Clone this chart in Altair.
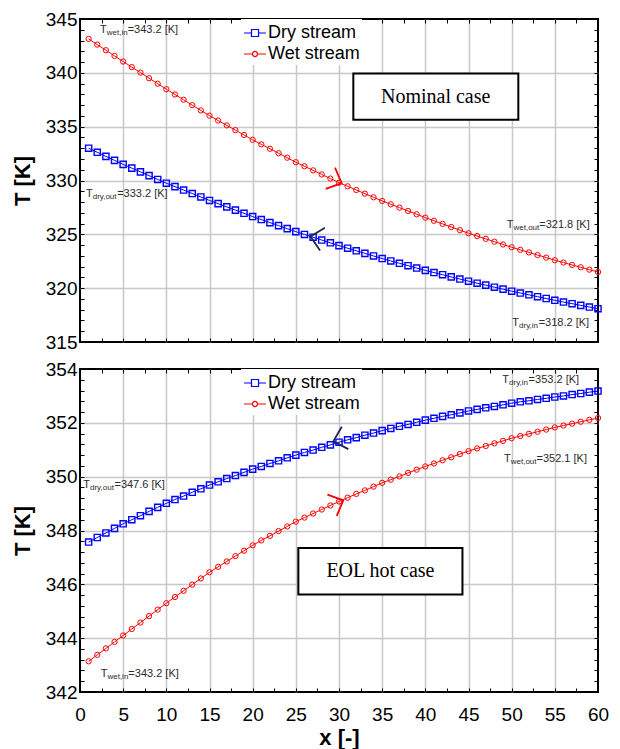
import altair as alt
import pandas as pd

FONT = "Liberation Sans"
SERIF = "Liberation Serif"

# ---------------- data ----------------
x_pos = list(range(1, 61))

nominal_dry = [333.00, 332.62, 332.24, 331.87, 331.50, 331.15, 330.80, 330.45, 330.10, 329.75,
               329.43, 329.11, 328.79, 328.47, 328.15, 327.85, 327.55, 327.25, 326.95, 326.65,
               326.37, 326.09, 325.81, 325.53, 325.25, 324.99, 324.73, 324.47, 324.21, 323.95,
               323.71, 323.47, 323.23, 322.99, 322.75, 322.53, 322.31, 322.09, 321.87, 321.65,
               321.45, 321.25, 321.05, 320.85, 320.65, 320.46, 320.28, 320.09, 319.91, 319.72,
               319.55, 319.38, 319.21, 319.04, 318.87, 318.71, 318.56, 318.40, 318.25, 318.09]

nominal_wet = [343.15, 342.62, 342.10, 341.57, 341.05, 340.53, 340.02, 339.50, 338.99, 338.48,
               337.99, 337.50, 337.00, 336.51, 336.02, 335.57, 335.12, 334.68, 334.23, 333.78,
               333.36, 332.95, 332.53, 332.12, 331.70, 331.32, 330.94, 330.56, 330.18, 329.80,
               329.46, 329.12, 328.78, 328.44, 328.10, 327.79, 327.48, 327.17, 326.86, 326.55,
               326.26, 325.97, 325.68, 325.39, 325.10, 324.84, 324.58, 324.32, 324.06, 323.80,
               323.56, 323.32, 323.08, 322.84, 322.60, 322.38, 322.16, 321.94, 321.72, 321.50]

eol_dry = [347.57, 347.74, 347.91, 348.08, 348.25, 348.40, 348.55, 348.71, 348.86, 349.01,
           349.15, 349.28, 349.42, 349.55, 349.69, 349.81, 349.93, 350.04, 350.16, 350.28,
           350.38, 350.49, 350.59, 350.70, 350.80, 350.90, 350.99, 351.09, 351.18, 351.28,
           351.37, 351.45, 351.54, 351.62, 351.71, 351.79, 351.87, 351.94, 352.02, 352.10,
           352.17, 352.24, 352.30, 352.37, 352.44, 352.50, 352.56, 352.61, 352.67, 352.73,
           352.78, 352.82, 352.87, 352.91, 352.96, 353.00, 353.05, 353.09, 353.14, 353.18]

eol_wet = [343.14, 343.38, 343.62, 343.86, 344.10, 344.34, 344.58, 344.82, 345.06, 345.30,
           345.53, 345.76, 345.99, 346.22, 346.45, 346.65, 346.85, 347.05, 347.25, 347.45,
           347.63, 347.80, 347.98, 348.15, 348.33, 348.48, 348.63, 348.78, 348.93, 349.08,
           349.22, 349.36, 349.49, 349.63, 349.77, 349.89, 350.01, 350.14, 350.26, 350.38,
           350.49, 350.61, 350.72, 350.84, 350.95, 351.05, 351.14, 351.24, 351.33, 351.43,
           351.51, 351.59, 351.67, 351.75, 351.83, 351.90, 351.97, 352.04, 352.11, 352.18]

streams = ["Dry stream", "Wet stream"]
stream_colors = ["#0000ff", "#ff0000"]

x_domain = [0, 60]
x_minor_ticks = [i * 2.5 for i in range(25)]
nominal_y_domain = [315, 345]
nominal_y_minor = list(range(315, 346))
eol_y_domain = [342, 354]
eol_y_minor = [round(342 + 0.4 * i, 1) for i in range(31)]

# annotation labels (T_sub=value)
nominal_label_x = [2.32, 0.69, 49.43, 50.08]
nominal_label_T = [343.98, 328.73, 325.85, 316.80]
nominal_label_sub = ["wet,in", "dry,out", "wet,out", "dry,in"]
nominal_label_val = ["=343.2 [K]", "=333.2 [K]", "=321.8 [K]", "=318.2 [K]"]

eol_label_x = [0.38, 48.92, 49.11, 2.40]
eol_label_T = [349.68, 353.60, 350.67, 342.68]
eol_label_sub = ["dry,out", "dry,in", "wet,out", "wet,in"]
eol_label_val = ["=347.6 [K]", "=353.2 [K]", "=352.1 [K]", "=343.2 [K]"]

# case boxes
nominal_box = {"x1": [31.66], "x2": [50.77], "y1": [339.94], "y2": [335.64],
               "tx": [41.2], "ty": [337.8], "text": ["Nominal case"]}
eol_box = {"x1": [25.29], "x2": [44.3], "y1": [347.35], "y2": [345.62],
           "tx": [34.8], "ty": [346.49], "text": ["EOL hot case"]}

# flow direction arrows: (x, T, direction, angle, color)
nominal_arrows = [(30.3, 329.75, "right", 23.6, "#ff0000"), (26.7, 324.8, "left", 12, "#1b2a4a")]
eol_arrows = [(29.34, 351.31, "left", 343.6, "#1b2a4a"), (30.5, 349.12, "right", 336.4, "#ff0000")]

# ---------------- styling helpers ----------------
ARIAL_W = {"w": .722, "e": .556, "t": .278, ",": .278, "i": .222, "n": .556,
           "d": .556, "r": .333, "y": .5, "o": .556, "u": .556}
LABEL_FS = 11
SUB_FS = 8
T_W = 0.611 * LABEL_FS

dry_legend_path = "M-1,0H-0.32M0.32,0H1M-0.32,-0.32H0.32V0.32H-0.32Z"
wet_legend_path = "M-1,0H-0.23M0.23,0H1M-0.23,0A0.23,0.23 0 1,0 0.23,0A0.23,0.23 0 1,0 -0.23,0Z"
right_chev = "M-1,-0.95L0,0L-1,0.95"
left_chev = "M1,-0.95L0,0L1,0.95"


def panel(dry, wet, y_domain, y_minor, y_step, show_x, lab_x, lab_T, lab_sub, lab_val, box, arrows):
    df = pd.DataFrame({
        "x": x_pos * 2,
        "T": dry + wet,
        "stream": [streams[0]] * len(dry) + [streams[1]] * len(wet),
    })
    xs = alt.Scale(domain=x_domain, nice=False, zero=False)
    ys = alt.Scale(domain=y_domain, nice=False, zero=False)
    cs = alt.Scale(domain=streams, range=stream_colors)

    x_major = "abs(datum.value/5 - round(datum.value/5)) < 0.001"
    x_grid = f"({x_major}) && datum.value > 0.5 && datum.value < 59.5"
    y_major = f"abs(datum.value/{y_step} - round(datum.value/{y_step})) < 0.001"
    y_grid = f"({y_major}) && datum.value > {y_domain[0] + 0.1} && datum.value < {y_domain[1] - 0.1}"

    x_axis = alt.Axis(
        orient="bottom", values=x_minor_ticks, offset=-4, tickSize=4, ticks=True,
        grid=True, gridOpacity={"condition": {"test": x_grid, "value": 1}, "value": 0},
        labels=show_x, labelExpr=f"({x_major}) ? datum.label : ''", labelFlush=False,
        labelPadding=13, format=".0f", title="x [-]" if show_x else None, titlePadding=3,
        labelOverlap=False,
    )
    y_axis = alt.Axis(
        orient="left", values=y_minor, offset=-4, tickSize=4, ticks=True,
        grid=True, gridOpacity={"condition": {"test": y_grid, "value": 1}, "value": 0},
        labelExpr=f"({y_major}) ? datum.label : ''", labelPadding=3, format=".0f",
        title="T [K]", titlePadding=11, labelOverlap=False, labelFlush=False,
    )
    x_axis_opp = alt.Axis(orient="top", values=x_minor_ticks, offset=-4, tickSize=4,
                          labels=False, grid=False, title=None)
    y_axis_opp = alt.Axis(orient="right", values=y_minor, offset=-4, tickSize=4,
                          labels=False, grid=False, title=None)

    base = alt.Chart(df)

    # legend carrier (first layer, so that its explicit legend wins the merge)
    leg = alt.Legend(orient="none", legendX=161, legendY=0, title=None, labelFont=FONT,
                     labelFontSize=18, labelColor="black", symbolSize=484, symbolStrokeWidth=1.2,
                     symbolOpacity=1, labelOffset=1, rowPadding=-1, padding=2, fillColor="white")
    legend_layer = base.mark_point(filled=False, opacity=0, strokeWidth=1.2).encode(
        x=alt.X("x:Q", scale=xs, axis=None),
        y=alt.Y("T:Q", scale=ys, axis=None),
        color=alt.Color("stream:N", scale=cs, legend=leg),
        shape=alt.Shape("stream:N", scale=alt.Scale(domain=streams, range=[dry_legend_path, wet_legend_path]),
                        legend=leg),
    )

    lines = base.mark_line(strokeWidth=1).encode(
        x=alt.X("x:Q", scale=xs, axis=x_axis),
        y=alt.Y("T:Q", scale=ys, axis=y_axis),
        color=alt.Color("stream:N", scale=cs, legend=None),
    )
    opp = base.mark_point(opacity=0).encode(
        x=alt.X("x:Q", scale=xs, axis=x_axis_opp),
        y=alt.Y("T:Q", scale=ys, axis=y_axis_opp),
    )
    dry_pts = base.transform_filter(alt.datum.stream == streams[0]).mark_point(
        shape="square", filled=False, size=38, strokeWidth=1.4, opacity=1
    ).encode(
        x=alt.X("x:Q", scale=xs, axis=None),
        y=alt.Y("T:Q", scale=ys, axis=None),
        color=alt.Color("stream:N", scale=cs, legend=None),
    )
    wet_pts = base.transform_filter(alt.datum.stream == streams[1]).mark_point(
        shape="circle", filled=False, size=28, strokeWidth=1, opacity=1
    ).encode(
        x=alt.X("x:Q", scale=xs, axis=None),
        y=alt.Y("T:Q", scale=ys, axis=None),
        color=alt.Color("stream:N", scale=cs, legend=None),
    )

    bdf = pd.DataFrame(box)
    box_rect = alt.Chart(bdf).mark_rect(fill="white", stroke="black", strokeWidth=2).encode(
        x=alt.X("x1:Q", scale=xs, axis=None), x2="x2:Q",
        y=alt.Y("y1:Q", scale=ys, axis=None), y2="y2:Q",
    )
    box_text = alt.Chart(bdf).mark_text(font=SERIF, fontSize=20, color="black",
                                        align="center", baseline="middle").encode(
        x=alt.X("tx:Q", scale=xs, axis=None),
        y=alt.Y("ty:Q", scale=ys, axis=None),
        text="text:N",
    )

    layers = [legend_layer, lines, opp, dry_pts, wet_pts, box_rect, box_text]

    for lx, lT, sub, val in zip(lab_x, lab_T, lab_sub, lab_val):
        sub_w = sum(ARIAL_W[c] for c in sub) * SUB_FS
        parts = [("T", 0, 0, LABEL_FS), (sub, T_W, 3, SUB_FS), (val, T_W + sub_w, 0, LABEL_FS)]
        ldf = pd.DataFrame({"x": [lx], "T": [lT]})
        for txt, dx, dy, fs in parts:
            layers.append(
                alt.Chart(ldf).mark_text(text=txt, dx=dx, dy=dy, fontSize=fs, font=FONT, color="#2b2b2b",
                                         align="left", baseline="middle").encode(
                    x=alt.X("x:Q", scale=xs, axis=None),
                    y=alt.Y("T:Q", scale=ys, axis=None),
                )
            )

    for ax, aT, direction, ang, col in arrows:
        adf = pd.DataFrame({"x": [ax], "T": [aT]})
        layers.append(
            alt.Chart(adf).mark_point(shape=right_chev if direction == "right" else left_chev,
                                      size=600, angle=ang, filled=False, stroke=col,
                                      strokeWidth=1.8, opacity=1).encode(
                x=alt.X("x:Q", scale=xs, axis=None),
                y=alt.Y("T:Q", scale=ys, axis=None),
            )
        )

    return alt.layer(*layers).properties(width=518, height=323)


top = panel(nominal_dry, nominal_wet, nominal_y_domain, nominal_y_minor, 5, False,
            nominal_label_x, nominal_label_T, nominal_label_sub, nominal_label_val,
            nominal_box, nominal_arrows)
bottom = panel(eol_dry, eol_wet, eol_y_domain, eol_y_minor, 2, True,
               eol_label_x, eol_label_T, eol_label_sub, eol_label_val,
               eol_box, eol_arrows)

chart = alt.vconcat(top, bottom, spacing=6).resolve_scale(
    color="independent", shape="independent"
).resolve_legend(
    color="independent", shape="independent"
).properties(
    padding={"left": 10, "top": 9, "right": 5, "bottom": 5},
    background="white",
).configure_view(
    stroke="black", strokeWidth=2
).configure_axis(
    labelFont=FONT, labelFontSize=19, labelColor="black",
    titleFont=FONT, titleFontSize=22, titleFontWeight="bold", titleColor="black",
    tickColor="black", tickWidth=1, gridColor="#c8c8c8", gridWidth=1.5, domain=False,
)

chart.save("out.html", embed_options={"renderer": "svg", "actions": False})
